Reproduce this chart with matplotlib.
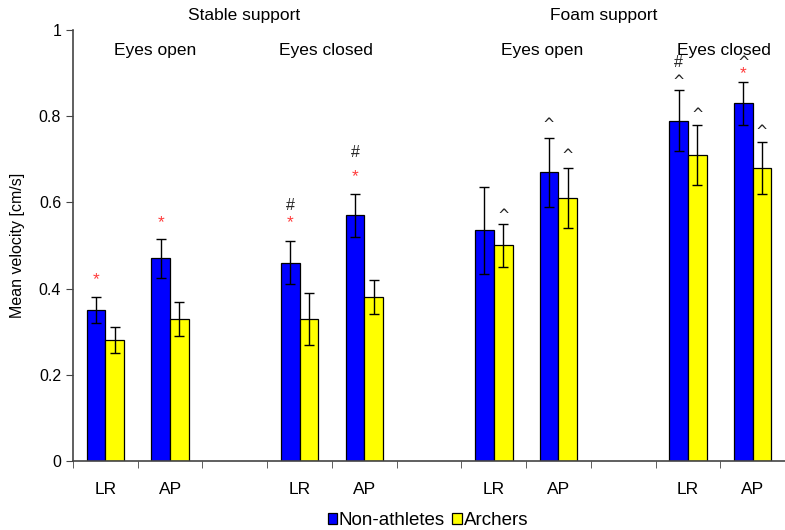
import matplotlib.pyplot as plt
import numpy as np

plt.rcParams['font.family'] = ['Liberation Sans', 'DejaVu Sans']

# slots on the x axis (empty strings are the gaps between groups)
slot_labels = ['LR', 'AP', '', 'LR', 'AP', '', 'LR', 'AP', '', 'LR', 'AP']
bar_slots = [0, 1, 3, 4, 6, 7, 9, 10]

non_athletes = [0.35, 0.47, 0.46, 0.57, 0.535, 0.67, 0.79, 0.83]
non_athletes_err = [0.03, 0.045, 0.05, 0.05, 0.1, 0.08, 0.07, 0.05]
archers = [0.28, 0.33, 0.33, 0.38, 0.50, 0.61, 0.71, 0.68]
archers_err = [0.03, 0.04, 0.06, 0.04, 0.05, 0.07, 0.07, 0.06]

# significance marks: (bar index, series 0=non-athletes 1=archers, symbol, height)
marks = [
    (0, 0, '*', 0.42),
    (1, 0, '*', 0.552),
    (2, 0, '*', 0.552), (2, 0, '#', 0.592),
    (3, 0, '*', 0.66), (3, 0, '#', 0.715),
    (4, 1, '^', 0.575),
    (5, 0, '^', 0.787), (5, 1, '^', 0.714),
    (6, 0, '^', 0.886), (6, 0, '#', 0.925), (6, 1, '^', 0.81),
    (7, 0, '*', 0.898), (7, 0, '^', 0.93), (7, 1, '^', 0.77),
]

support_labels = ['Stable support', 'Foam support']
support_x = [2.15, 7.7]
eyes_labels = ['Eyes open', 'Eyes closed', 'Eyes open', 'Eyes closed']
eyes_x = [0.77, 3.4, 6.75, 9.55]

fig = plt.figure(figsize=(7.85, 5.30), dpi=100)
ax = fig.add_axes([0.093, 0.1302, 0.907, 0.8132])

w = 0.29
x = np.array(bar_slots, dtype=float)
ax.bar(x - w / 2, non_athletes, w, color='#0000ff', edgecolor='black', linewidth=0.9,
       label='Non-athletes', zorder=2)
ax.bar(x + w / 2, archers, w, color='#ffff00', edgecolor='black', linewidth=0.9,
       label='Archers', zorder=2)
ax.errorbar(x - w / 2, non_athletes, yerr=non_athletes_err, fmt='none', ecolor='black',
            elinewidth=1, capsize=3.5, capthick=1, zorder=3)
ax.errorbar(x + w / 2, archers, yerr=archers_err, fmt='none', ecolor='black',
            elinewidth=1, capsize=3.5, capthick=1, zorder=3)

for i, s, sym, yv in marks:
    xm = x[i] - w / 2 if s == 0 else x[i] + w / 2
    if sym == '*':
        ax.text(xm, yv, '*', color='#ff3b3b', fontsize=12.5, ha='center', va='center')
    elif sym == '^':
        ax.text(xm, yv - 0.006, '^', color='#222222', fontsize=10.5, ha='center',
                va='center', family='DejaVu Sans')
    else:
        ax.text(xm, yv, '#', color='#222222', fontsize=11.5, ha='center', va='center')

for lab, xs in zip(support_labels, support_x):
    ax.text(xs, 1.033, lab, fontsize=12.5, ha='center', va='center', clip_on=False)
for lab, xs in zip(eyes_labels, eyes_x):
    ax.text(xs, 0.953, lab, fontsize=12.5, ha='center', va='center')

ax.set_xlim(-0.5, 10.4)
ax.set_ylim(0, 1)
ax.set_yticks([0, 0.2, 0.4, 0.6, 0.8, 1])
ax.set_yticklabels(['0', '0.2', '0.4', '0.6', '0.8', '1'])
ax.set_xticks(range(len(slot_labels)))
ax.set_xticklabels(slot_labels)
ax.set_xticks(np.arange(-0.5, 10.6, 1), minor=True)
ax.tick_params(axis='x', which='major', length=0, pad=15, labelsize=12.5)
ax.tick_params(axis='x', which='minor', length=5, direction='out', color='#444444')
ax.tick_params(axis='y', length=5, direction='out', labelsize=11.5, color='#444444')
ax.set_ylabel('Mean velocity [cm/s]', fontsize=11.5, labelpad=10)

for side in ['top', 'right']:
    ax.spines[side].set_visible(False)
ax.spines['left'].set_color('#444444')
ax.spines['bottom'].set_color('#444444')
ax.spines['left'].set_linewidth(1.2)
ax.spines['bottom'].set_linewidth(1.2)

fig.legend(loc='center', bbox_to_anchor=(0.545, 0.017), ncol=2, frameon=False,
           fontsize=13.5, handlelength=0.5, handleheight=0.5, handletextpad=0.1,
           columnspacing=0.4)

fig.savefig('out.png', dpi=100)
